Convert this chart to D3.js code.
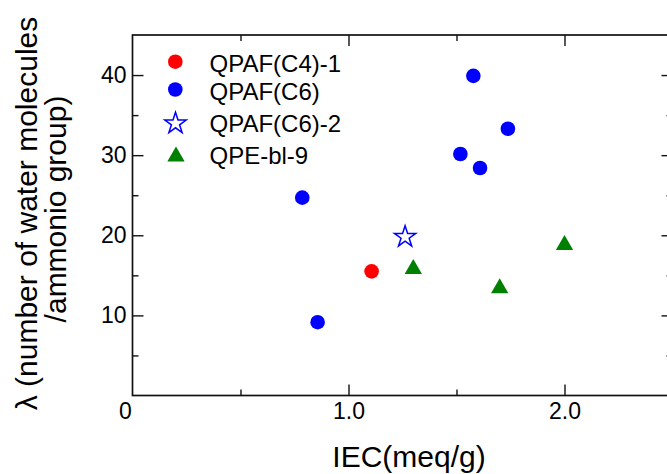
<!DOCTYPE html>
<html>
<head>
<meta charset="utf-8">
<script src="https://cdn.jsdelivr.net/npm/d3@7"></script>
<style>
  html, body { margin: 0; padding: 0; background: #fff; }
  svg { display: block; }
  text { font-family: "Liberation Sans", Arial, sans-serif; fill: #000; }
</style>
</head>
<body>
<svg id="chart" width="667" height="474"></svg>
<script>
// ---- data ----
const seriesNames = ["QPAF(C4)-1", "QPAF(C6)", "QPAF(C6)-2", "QPE-bl-9"];
const c4_1_iec = [1.107];
const c4_1_lambda = [15.5];
const c6_iec = [1.578, 1.738, 1.518, 1.609, 0.786, 0.857];
const c6_lambda = [39.9, 33.3, 30.15, 28.4, 24.7, 9.15];
const c6_2_iec = [1.262];
const c6_2_lambda = [19.8];
const qpe_iec = [1.30, 1.70, 2.00];
const qpe_lambda = [15.8, 13.4, 18.8];

const xTickValues = [0, 1, 2];
const xTickLabels = ["0", "1.0", "2.0"];
const xMinorTicks = [0.5, 1.5];
const yTickValues = [10, 20, 30, 40];
const yTickLabels = ["10", "20", "30", "40"];
const yMinorTicks = [5, 15, 25, 35];

// ---- layout ----
const svg = d3.select("#chart");
const x = d3.scaleLinear().domain([0, 2.5]).range([132.5, 672.5]);
const y = d3.scaleLinear().domain([0, 45]).range([395.5, 35]);
const L = x(0), R = x(2.5), T = y(45), B = y(0);
const majorLen = 11, minorLen = 6;
const tickFont = 23;

function styleAxis(g) {
  g.select(".domain").remove();
  g.selectAll(".tick line").attr("stroke", "#111").attr("stroke-width", 1.4);
  g.selectAll(".tick text")
    .style("font-family", '"Liberation Sans", Arial, sans-serif')
    .style("font-size", tickFont + "px")
    .attr("fill", "#000");
}

// bottom major with labels
const gxb = svg.append("g").attr("transform", `translate(0,${B})`)
  .call(d3.axisBottom(x).tickValues(xTickValues)
    .tickFormat((d, i) => xTickLabels[i])
    .tickSize(-majorLen).tickPadding(7.5));
styleAxis(gxb);
gxb.selectAll(".tick").filter(d => d === 0).select("line").remove();
gxb.selectAll(".tick").filter(d => d === 0).select("text").attr("x", -7.5);
// bottom minor
styleAxis(svg.append("g").attr("transform", `translate(0,${B})`)
  .call(d3.axisBottom(x).tickValues(xMinorTicks).tickFormat("").tickSize(-minorLen)));
// top
const gxt = svg.append("g").attr("transform", `translate(0,${T})`)
  .call(d3.axisTop(x).tickValues(xTickValues.filter(d => d > 0)).tickFormat("").tickSize(-majorLen));
styleAxis(gxt);
styleAxis(svg.append("g").attr("transform", `translate(0,${T})`)
  .call(d3.axisTop(x).tickValues(xMinorTicks).tickFormat("").tickSize(-minorLen)));
// left major with labels
styleAxis(svg.append("g").attr("transform", `translate(${L},0)`)
  .call(d3.axisLeft(y).tickValues(yTickValues)
    .tickFormat((d, i) => yTickLabels[i])
    .tickSize(-majorLen).tickPadding(6)));
styleAxis(svg.append("g").attr("transform", `translate(${L},0)`)
  .call(d3.axisLeft(y).tickValues(yMinorTicks).tickFormat("").tickSize(-minorLen)));
// right
styleAxis(svg.append("g").attr("transform", `translate(${R},0)`)
  .call(d3.axisRight(y).tickValues(yTickValues).tickFormat("").tickSize(-majorLen)));
styleAxis(svg.append("g").attr("transform", `translate(${R},0)`)
  .call(d3.axisRight(y).tickValues(yMinorTicks).tickFormat("").tickSize(-minorLen)));

// frame
svg.append("rect")
  .attr("x", L).attr("y", T).attr("width", R - L).attr("height", B - T)
  .attr("fill", "none").attr("stroke", "#111").attr("stroke-width", 1.7);

// ---- marks ----
const circleR = 7.3;
const starSym = d3.symbol().type(d3.symbolStar).size(141);
const triSym = d3.symbol().type(d3.symbolTriangle).size(130);

svg.append("g").selectAll("circle")
  .data(d3.zip(c6_iec, c6_lambda)).join("circle")
  .attr("cx", d => x(d[0])).attr("cy", d => y(d[1])).attr("r", circleR)
  .attr("fill", "#0000ff");

svg.append("g").selectAll("circle")
  .data(d3.zip(c4_1_iec, c4_1_lambda)).join("circle")
  .attr("cx", d => x(d[0])).attr("cy", d => y(d[1])).attr("r", circleR)
  .attr("fill", "#ff0000");

svg.append("g").selectAll("path")
  .data(d3.zip(c6_2_iec, c6_2_lambda)).join("path")
  .attr("d", starSym)
  .attr("transform", d => `translate(${x(d[0])},${y(d[1])})`)
  .attr("fill", "#fff").attr("stroke", "#0000ff").attr("stroke-width", 1.5);

svg.append("g").selectAll("path")
  .data(d3.zip(qpe_iec, qpe_lambda)).join("path")
  .attr("d", triSym)
  .attr("transform", d => `translate(${x(d[0])},${y(d[1])})`)
  .attr("fill", "#008000");

// ---- legend ----
const legendRows = [
  { name: seriesNames[0], kind: "circle", color: "#ff0000", my: 61.7, ty: 71.7 },
  { name: seriesNames[1], kind: "circle", color: "#0000ff", my: 89.5, ty: 100 },
  { name: seriesNames[2], kind: "star",   color: "#0000ff", my: 123.5, ty: 132.3 },
  { name: seriesNames[3], kind: "tri",    color: "#008000", my: 156.5, ty: 164 }
];
const lg = svg.append("g");
legendRows.forEach(r => {
  if (r.kind === "circle") {
    lg.append("circle").attr("cx", 175.3).attr("cy", r.my).attr("r", circleR).attr("fill", r.color);
  } else if (r.kind === "star") {
    lg.append("path").attr("d", starSym).attr("transform", `translate(175.5,${r.my})`)
      .attr("fill", "#fff").attr("stroke", r.color).attr("stroke-width", 1.5);
  } else {
    lg.append("path").attr("d", triSym).attr("transform", `translate(176,${r.my})`)
      .attr("fill", r.color);
  }
  lg.append("text").attr("x", 209.5).attr("y", r.ty)
    .style("font-size", "24px").text(r.name);
});

// ---- axis titles ----
svg.append("text")
  .attr("x", 409).attr("y", 467)
  .attr("text-anchor", "middle")
  .style("font-size", "30px")
  .text("IEC(meq/g)");

svg.append("text")
  .attr("transform", "rotate(-90)")
  .attr("x", -213.5).attr("y", 37)
  .attr("text-anchor", "middle")
  .style("font-size", "30px")
  .text("λ (number of water molecules");
svg.append("text")
  .attr("transform", "rotate(-90)")
  .attr("x", -209).attr("y", 66)
  .attr("text-anchor", "middle")
  .style("font-size", "30px")
  .text("/ammonio group)");
</script>
</body>
</html>
